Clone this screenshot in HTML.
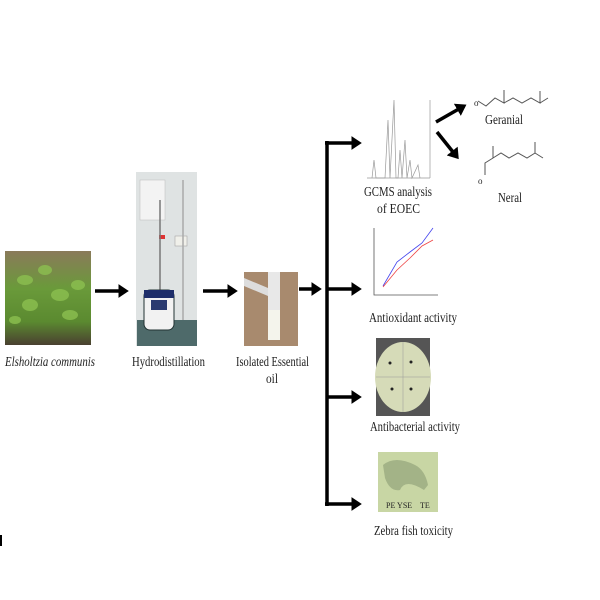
<!DOCTYPE html>
<html><head><meta charset="utf-8"><style>
body{margin:0;background:#fff;}
svg{display:block}
text{font-family:"Liberation Serif",serif;font-size:14px;fill:#222}
</style></head><body>
<svg width="600" height="600" viewBox="0 0 600 600">
<defs>
<marker id="ah" markerWidth="4" markerHeight="4" refX="2.2" refY="2" orient="auto" markerUnits="strokeWidth"><path d="M0,0 L3,2 L0,4Z" fill="#000"/></marker>
<linearGradient id="pl" x1="0" y1="0" x2="0" y2="1"><stop offset="0" stop-color="#8a7a5a"/><stop offset=".4" stop-color="#6a9a3a"/><stop offset=".75" stop-color="#5b8a30"/><stop offset="1" stop-color="#4a4030"/></linearGradient>
</defs>
<rect x="5" y="251" width="86" height="94" fill="url(#pl)"/>
<g fill="#8cc050" opacity=".8">
<ellipse cx="25" cy="280" rx="8" ry="5"/><ellipse cx="45" cy="270" rx="7" ry="5"/><ellipse cx="60" cy="295" rx="9" ry="6"/><ellipse cx="78" cy="285" rx="7" ry="5"/><ellipse cx="30" cy="305" rx="8" ry="6"/><ellipse cx="70" cy="315" rx="8" ry="5"/><ellipse cx="15" cy="320" rx="6" ry="4"/>
</g>
<text x="5" y="366" font-style="italic" textLength="90" lengthAdjust="spacingAndGlyphs">Elsholtzia communis</text>
<rect x="136" y="172" width="61" height="174" fill="#dfe3e3"/>
<rect x="137" y="320" width="60" height="26" fill="#4e6a6a"/>
<rect x="140" y="180" width="25" height="40" fill="#f3f3f3" stroke="#bbb" stroke-width=".5"/>
<rect x="175" y="236" width="12" height="10" fill="#f0f0ea" stroke="#999" stroke-width=".5"/>
<rect x="159" y="235" width="6" height="4" fill="#d33"/>
<line x1="160" y1="200" x2="160" y2="290" stroke="#777" stroke-width="1.5"/>
<line x1="183" y1="180" x2="183" y2="320" stroke="#aaa" stroke-width="1.5"/>
<rect x="144" y="290" width="30" height="40" rx="6" fill="#f2f2f2" stroke="#233" stroke-width="1"/>
<rect x="144" y="290" width="30" height="8" fill="#1e2e6a"/>
<rect x="151" y="300" width="16" height="10" fill="#2a3a70"/>
<text x="132" y="366" textLength="73" lengthAdjust="spacingAndGlyphs">Hydrodistillation</text>
<rect x="244" y="272" width="54" height="74" fill="#a88a6e"/>
<path d="M268,272 L280,272 L280,340 L268,340Z" fill="#e8e8e8"/>
<path d="M244,278 L268,288 L268,296 L244,286Z" fill="#ddd"/>
<rect x="268" y="310" width="12" height="30" fill="#f4f4ec"/>
<text x="236" y="366" textLength="73" lengthAdjust="spacingAndGlyphs">Isolated Essential</text>
<text x="266" y="383" textLength="12" lengthAdjust="spacingAndGlyphs">oil</text>
<g stroke="#000" stroke-width="3.5" fill="none">
<line x1="95" y1="291" x2="126" y2="291" marker-end="url(#ah)"/>
<line x1="203" y1="291" x2="235" y2="291" marker-end="url(#ah)"/>
<line x1="299" y1="289" x2="319" y2="289" marker-end="url(#ah)"/>
<line x1="327" y1="141" x2="327" y2="506"/>
<line x1="325" y1="143" x2="359" y2="143" marker-end="url(#ah)"/>
<line x1="327" y1="289" x2="359" y2="289" marker-end="url(#ah)"/>
<line x1="327" y1="397" x2="359" y2="397" marker-end="url(#ah)"/>
<line x1="325" y1="504" x2="359" y2="504" marker-end="url(#ah)"/>
<line x1="436" y1="122" x2="464" y2="106" marker-end="url(#ah)"/>
<line x1="437" y1="132" x2="457" y2="157" marker-end="url(#ah)"/>
</g>
<g stroke="#999" stroke-width=".7" fill="none">
<line x1="367" y1="178" x2="430" y2="178"/>
<path d="M372,178 L374,160 L376,178 L385,178 L388,120 L390,178 L394,100 L396,178 L398,178 L400,150 L402,178 L405,140 L407,178 L410,160 L412,178 L418,165 L420,178"/>
<line x1="430" y1="100" x2="430" y2="178"/>
</g>
<text x="364" y="196" textLength="68" lengthAdjust="spacingAndGlyphs">GCMS analysis</text>
<text x="377" y="213" textLength="43" lengthAdjust="spacingAndGlyphs">of  EOEC</text>
<g fill="none" stroke-width=".8">
<path d="M374,228 L374,295 L438,295" stroke="#555"/>
<path d="M383,286 L397,262 L410,252 L422,243 L433,228" stroke="#44e"/>
<path d="M383,287 L397,270 L410,258 L422,246 L433,240" stroke="#e44"/>
</g>
<text x="369" y="322" textLength="88" lengthAdjust="spacingAndGlyphs">Antioxidant activity</text>
<rect x="376" y="338" width="54" height="78" fill="#555"/>
<ellipse cx="403" cy="377" rx="28" ry="35" fill="#d6dbb8"/>
<line x1="376" y1="377" x2="430" y2="377" stroke="#999" stroke-width=".5"/>
<line x1="403" y1="342" x2="403" y2="412" stroke="#999" stroke-width=".5"/>
<g fill="#222"><circle cx="390" cy="363" r="1.5"/><circle cx="411" cy="362" r="1.5"/><circle cx="392" cy="389" r="1.5"/><circle cx="411" cy="389" r="1.5"/></g>
<text x="370" y="431" textLength="90" lengthAdjust="spacingAndGlyphs">Antibacterial activity</text>
<rect x="378" y="452" width="60" height="60" fill="#c8d6a4"/>
<path d="M383,465 Q395,455 415,465 Q425,470 428,485 L424,490 Q405,478 400,490 Q390,492 385,478Z" fill="#9aaa80" opacity=".8"/>
<text x="386" y="508" style="font-size:8px">PE YSE</text><text x="420" y="508" style="font-size:8px">TE</text>
<text x="374" y="535" textLength="79" lengthAdjust="spacingAndGlyphs">Zebra fish toxicity</text>
<g stroke="#555" stroke-width="1" fill="none">
<path d="M478,101 L486,106 L495,98 L504,103 L504,90 M504,103 L513,98 L522,103 L531,98 L540,103 L540,91 M540,103 L548,98"/>
<path d="M485,175 L485,163 L493,158 L493,146 M493,158 L501,153 L509,158 L518,153 L527,158 L535,153 L535,142 M535,153 L543,158"/>
</g>
<text x="474" y="106" style="font-size:9px">o</text>
<text x="478" y="184" style="font-size:9px">o</text>
<text x="485" y="124" textLength="38" lengthAdjust="spacingAndGlyphs">Geranial</text>
<text x="498" y="202" textLength="24" lengthAdjust="spacingAndGlyphs">Neral</text>
<line x1="1" y1="535" x2="1" y2="546" stroke="#000" stroke-width="2"/>
</svg>
</body></html>
